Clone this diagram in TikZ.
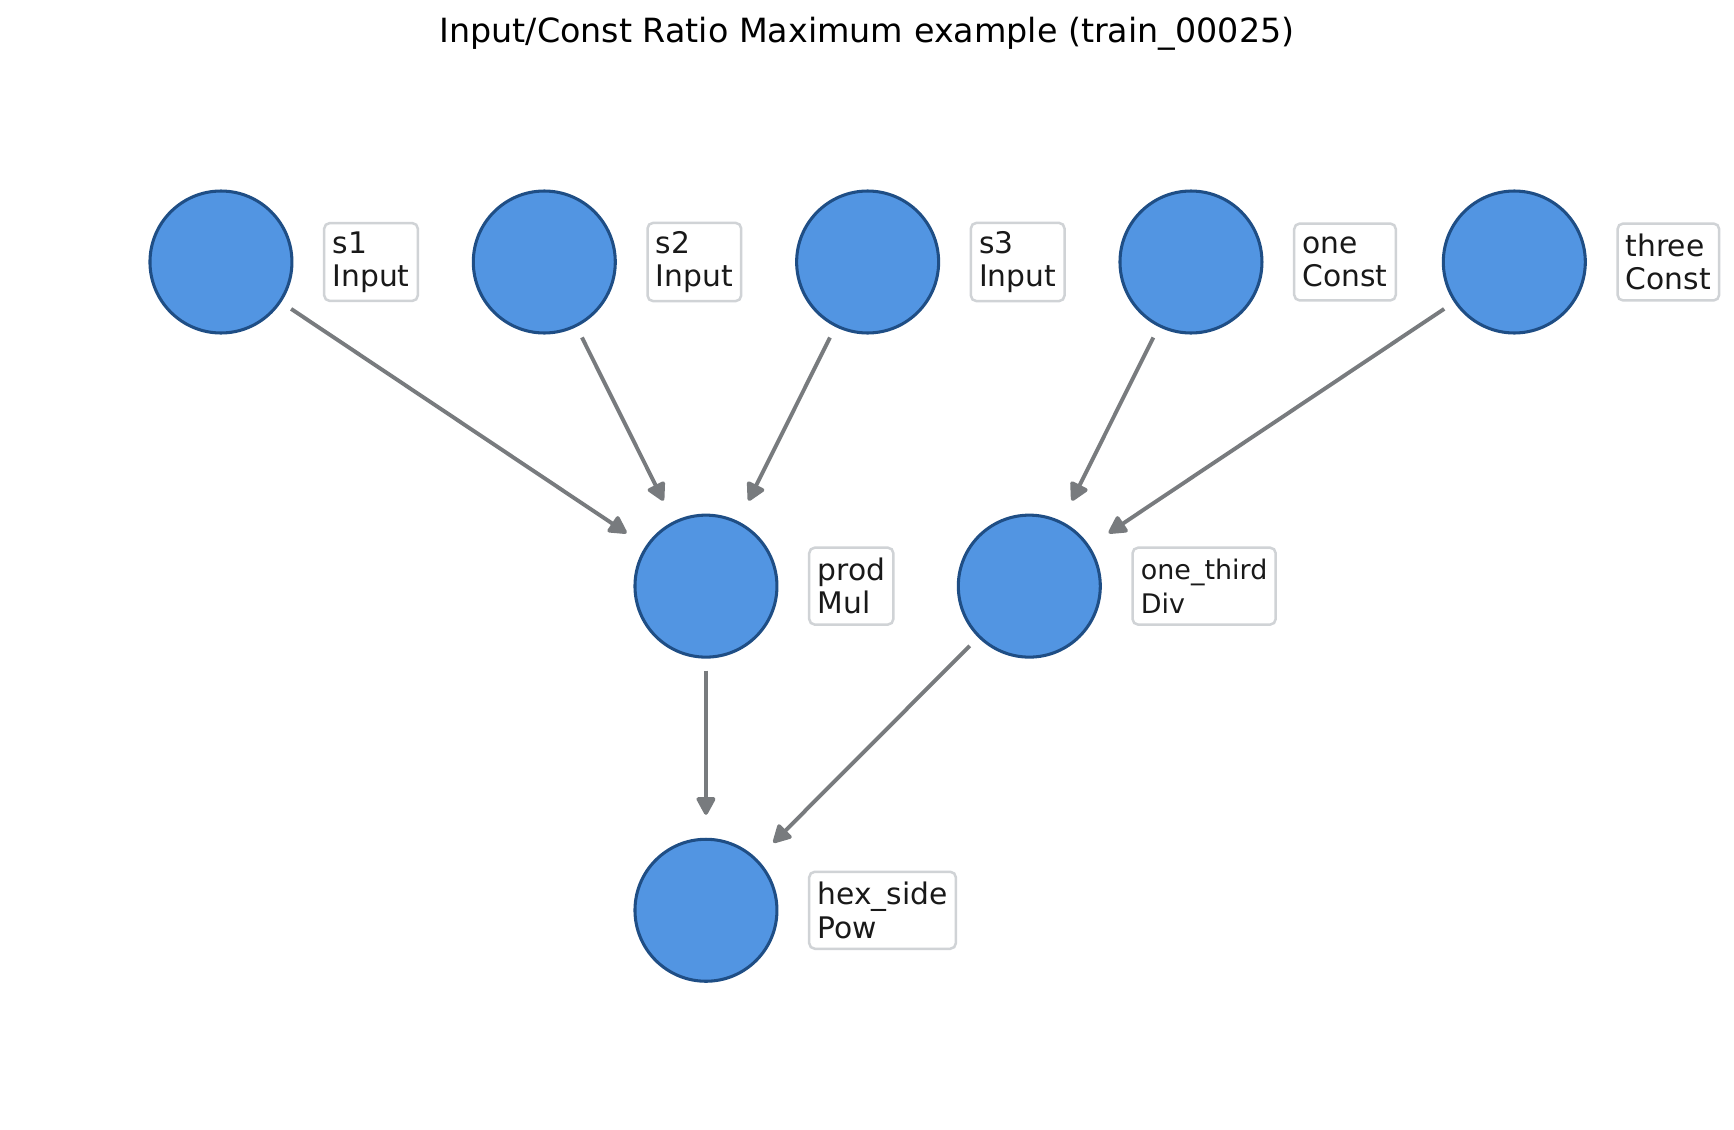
\documentclass[tikz,border=0pt]{standalone}
\usepackage{fontspec}
\setmainfont{DejaVu Sans}
\usetikzlibrary{arrows.meta,positioning}
\definecolor{nodefill}{HTML}{5295E2}
\definecolor{nodeedge}{HTML}{1F4E85}
\definecolor{edgegray}{HTML}{787B7E}
\definecolor{boxedge}{HTML}{D0D3D6}

\begin{document}
\begin{tikzpicture}[
  node distance=4.1cm and 4.09cm,
  v/.style={draw=nodeedge,fill=nodefill,circle,line width=1.1pt,minimum size=1.796cm,inner sep=0pt,on grid},
  lb/.style={draw=boxedge,line width=0.9pt,rounded corners=2pt,fill=white,align=left,inner sep=3pt,minimum height=27.7pt,text=black!90,font=\fontsize{10.7}{12}\selectfont},
  arr/.style={color=edgegray,line width=1.4pt,-{Triangle[length=7.2pt,width=7.4pt,round]},shorten <=0.15cm,shorten >=0.29cm}
]
\useasboundingbox (0,0) rectangle (21.934,-14.293);
\node[font=\fontsize{12}{14}\selectfont] (title) at (10.967,-0.43) {Input/Const Ratio Maximum example (train\_00025)};

% inputs and constants
\node[v] (s1) at (2.795,-3.314) {};
\node[v,right=of s1] (s2) {};
\node[v,right=of s2] (s3) {};
\node[v,right=of s3] (one) {};
\node[v,right=of one] (three) {};

% operations
\node[v,below right=4.1cm and 2.045cm of s2] (prod) {};
\node[v,right=of prod] (third) {};
\node[v,below=of prod] (hex) {};

% name/type boxes
\node[lb,right=1.29cm of s1.center] (s1l) {s1\\Input};
\node[lb,right=1.29cm of s2.center] (s2l) {s2\\Input};
\node[lb,right=1.29cm of s3.center] (s3l) {s3\\Input};
\node[lb,right=1.29cm of one.center] (onel) {one\\Const};
\node[lb,right=1.29cm of three.center] (threel) {three\\Const};
\node[lb,right=1.29cm of prod.center] (prodl) {prod\\Mul};
\node[lb,right=1.29cm of third.center,font=\fontsize{9.7}{12.5}\selectfont] (thirdl) {one\_third\\Div};
\node[lb,right=1.29cm of hex.center] (hexl) {hex\_side\\Pow};

\draw[arr] (s1) -- (prod);
\draw[arr] (s2) -- (prod);
\draw[arr] (s3) -- (prod);
\draw[arr] (one) -- (third);
\draw[arr] (three) -- (third);
\draw[arr] (prod) -- (hex);
\draw[arr] (third) -- (hex);
\end{tikzpicture}
\end{document}
